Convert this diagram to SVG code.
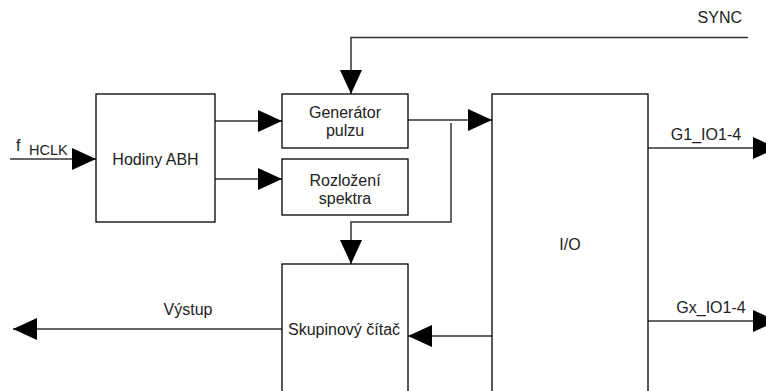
<svg xmlns="http://www.w3.org/2000/svg" width="766" height="391" viewBox="0 0 766 391">
<style>
.box{fill:#fff;stroke:#000;stroke-width:1.3}
.ln{fill:none;stroke:#333;stroke-width:1.5}
text{font-family:"Liberation Sans",Arial,sans-serif;font-size:16px;fill:#222}
.c{text-anchor:middle}
</style>
<defs>
<marker id="ah" markerUnits="userSpaceOnUse" markerWidth="26" markerHeight="24" refX="24" refY="11" orient="auto" viewBox="0 0 26 24">
<path d="M0,0 L24,11 L0,22 z" fill="#000"/>
</marker>
</defs>
<rect width="766" height="391" fill="#fff"/>
<g id="connectors">
<path class="ln" d="M10,159 H96" marker-end="url(#ah)"/>
<path class="ln" d="M215,121 H282" marker-end="url(#ah)"/>
<path class="ln" d="M215,179 H282" marker-end="url(#ah)"/>
<path class="ln" d="M748,37.5 H351 V94" marker-end="url(#ah)"/>
<path class="ln" d="M408,120 H492" marker-end="url(#ah)"/>
<path class="ln" d="M451,123 V222 H351 V264" marker-end="url(#ah)"/>
<path class="ln" d="M648,148 H777" marker-end="url(#ah)"/>
<path class="ln" d="M648,321 H777" marker-end="url(#ah)"/>
<path class="ln" d="M492,336 H408" marker-end="url(#ah)"/>
<path class="ln" d="M282,329 H13" marker-end="url(#ah)"/>
</g>
<g id="labels">
<text x="16" y="151">f</text>
<text x="29" y="154.5" style="font-size:14.5px">HCLK</text>
<text x="742" y="23" text-anchor="end">SYNC</text>
<text x="706" y="140" class="c">G1_IO1-4</text>
<text x="711" y="313" class="c">Gx_IO1-4</text>
<text x="188" y="315" class="c">Výstup</text>
</g>
<g id="hodiny">
<rect class="box" x="96" y="94" width="119" height="128"/>
<text x="155.5" y="164.5" class="c">Hodiny ABH</text>
</g>
<g id="generator">
<rect class="box" x="282" y="94" width="126" height="54"/>
<text x="345" y="117.5" class="c">Generátor</text>
<text x="345" y="135.5" class="c">pulzu</text>
</g>
<g id="rozlozeni">
<rect class="box" x="282" y="159" width="126" height="56"/>
<text x="345" y="186" class="c">Rozložení</text>
<text x="345" y="204" class="c">spektra</text>
</g>
<g id="io">
<rect class="box" x="492" y="94" width="156" height="310"/>
<text x="570" y="250" class="c">I/O</text>
</g>
<g id="skupinovy">
<rect class="box" x="282" y="264" width="126" height="140"/>
<text x="344" y="335" class="c">Skupinový čítač</text>
</g>
</svg>
